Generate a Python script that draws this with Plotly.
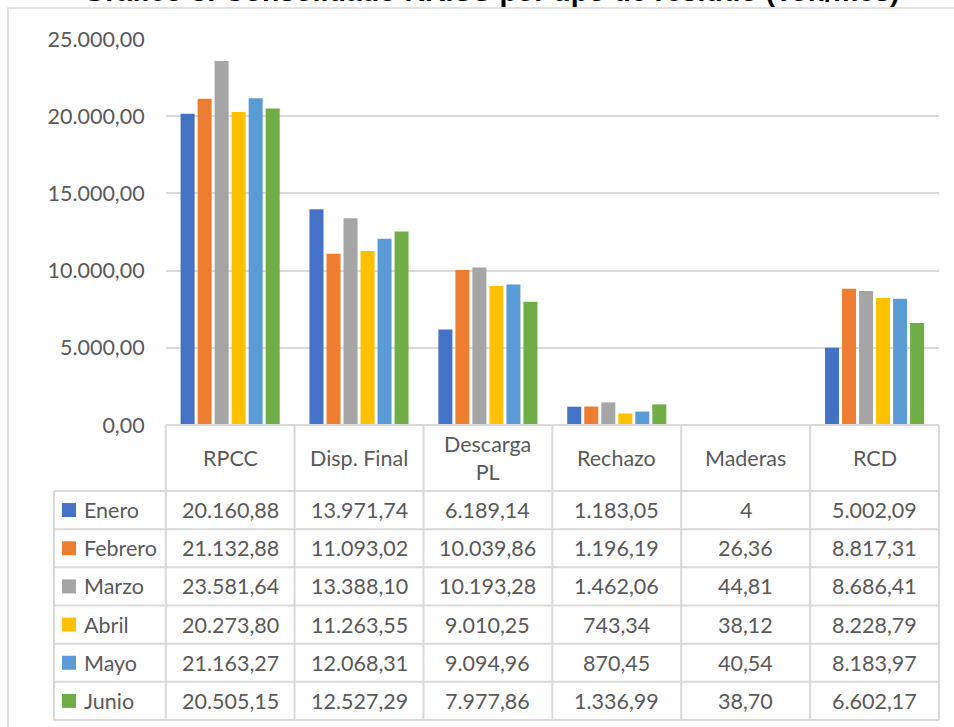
import plotly.graph_objects as go

# datos del gráfico (Ton/mes)
categories = ["RPCC", "Disp. Final", "Descarga PL", "Rechazo", "Maderas", "RCD"]
header_labels = ["RPCC", "Disp. Final", "Descarga<br>PL", "Rechazo", "Maderas", "RCD"]
months = ["Enero", "Febrero", "Marzo", "Abril", "Mayo", "Junio"]
enero = [20160.88, 13971.74, 6189.14, 1183.05, 4, 5002.09]
febrero = [21132.88, 11093.02, 10039.86, 1196.19, 26.36, 8817.31]
marzo = [23581.64, 13388.10, 10193.28, 1462.06, 44.81, 8686.41]
abril = [20273.80, 11263.55, 9010.25, 743.34, 38.12, 8228.79]
mayo = [21163.27, 12068.31, 9094.96, 870.45, 40.54, 8183.97]
junio = [20505.15, 12527.29, 7977.86, 1336.99, 38.70, 6602.17]
series = [enero, febrero, marzo, abril, mayo, junio]
colors = ["#4472C4", "#ED7D31", "#A5A5A5", "#FFC000", "#5B9BD5", "#70AD47"]
y_ticks = [0, 5000, 10000, 15000, 20000, 25000]

title = "Gráfico 3: Consolidado RR.SS por tipo de residuo (Ton/mes)"

# geometria en pixeles
W, H = 954, 727
PLOT_L, PLOT_R = 165.7, 939
PLOT_T, ZERO = 39, 425
HDR_B, TBL_B = 491, 720
LEG_L = 54
COL = (PLOT_R - PLOT_L) / len(categories)
ROW = (TBL_B - HDR_B) / len(months)
HDR = (HDR_B - ZERO) / ROW

FONT = "Lato, 'Open Sans', sans-serif"
FS = 21.5
GREY_TXT = "#595959"
LINE = "#d9d9d9"


def px(x):
    return x / W


def py(y):
    return 1 - y / H


def to_x2(p):
    return (p - PLOT_L) / COL - 0.5


def to_y2(p):
    return (p - HDR_B) / ROW


def fmt(v):
    if float(v).is_integer():
        s = f"{int(v):,}"
    else:
        s = f"{v:,.2f}"
    return s.replace(",", "X").replace(".", ",").replace("X", ".")


fig = go.Figure()

for name, vals, color in zip(months, series, colors):
    fig.add_trace(go.Bar(name=name, x=categories, y=vals, marker_color=color,
                         marker_line_width=0, showlegend=False, hoverinfo="skip"))

# cuadritos de la leyenda en la tabla
fig.add_trace(go.Scatter(
    x=[to_x2(69)] * len(months),
    y=[r + 0.5 for r in range(len(months))],
    mode="markers",
    marker=dict(symbol="square", size=14, color=colors, line_width=0),
    xaxis="x2", yaxis="y2", showlegend=False, hoverinfo="skip", cliponaxis=False,
))

txt = dict(family=FONT, size=FS, color=GREY_TXT)
annotations = []
for r, (name, vals) in enumerate(zip(months, series)):
    annotations.append(dict(x=to_x2(82), y=r + 0.5, xref="x2", yref="y2", text=name,
                            xanchor="left", showarrow=False, font=txt))
    for c, v in enumerate(vals):
        annotations.append(dict(x=c, y=r + 0.5, xref="x2", yref="y2", text=fmt(v),
                                showarrow=False, font=txt))
for c, lab in enumerate(header_labels):
    annotations.append(dict(x=c, y=-HDR / 2, xref="x2", yref="y2", text=lab,
                            showarrow=False, font=txt))

# titulo (queda cortado arriba como en el original)
annotations.append(dict(x=px(491), y=py(9.5), xref="paper", yref="paper", text=f"<b>{title}</b>",
                        xanchor="center", yanchor="bottom", showarrow=False,
                        font=dict(family="Liberation Sans, Arial", size=28.5, color="black")))

shapes = [dict(type="rect", xref="paper", yref="paper", x0=px(8), x1=px(970),
               y0=py(8), y1=py(760), line=dict(color=LINE, width=1.5), layer="below")]
n = len(categories)
left = to_x2(LEG_L)
shapes.append(dict(type="line", xref="x2", yref="y2", x0=-0.5, x1=n - 0.5, y0=-HDR, y1=-HDR,
                   line=dict(color=LINE, width=2)))
for r in range(len(months) + 1):
    shapes.append(dict(type="line", xref="x2", yref="y2", x0=left, x1=n - 0.5, y0=r, y1=r,
                       line=dict(color=LINE, width=2)))
shapes.append(dict(type="line", xref="x2", yref="y2", x0=left, x1=left, y0=0, y1=len(months),
                   line=dict(color=LINE, width=2)))
for k in range(n + 1):
    shapes.append(dict(type="line", xref="x2", yref="y2", x0=k - 0.5, x1=k - 0.5,
                       y0=-HDR, y1=len(months), line=dict(color=LINE, width=2)))

fig.update_layout(
    width=W, height=H,
    margin=dict(l=0, r=0, t=0, b=0),
    paper_bgcolor="white", plot_bgcolor="rgba(0,0,0,0)",
    barmode="group", bargap=0.208, bargroupgap=0.176,
    separators=",.",
    xaxis=dict(domain=[px(PLOT_L), px(PLOT_R)], showticklabels=False, showgrid=False,
               zeroline=False, showline=False, ticks="", automargin=False),
    yaxis=dict(domain=[py(ZERO), py(PLOT_T)], range=[0, 25000], tickvals=y_ticks,
               tickformat=",.2f", showgrid=True, gridcolor=LINE, gridwidth=1.5,
               zeroline=False, showline=False, ticklabelstandoff=20, automargin=False,
               tickfont=txt),
    xaxis2=dict(domain=[px(50), px(944)], range=[to_x2(50), to_x2(944)], visible=False,
                anchor="y2", automargin=False),
    yaxis2=dict(domain=[py(723), py(422)], range=[to_y2(723), to_y2(422)], visible=False,
                anchor="x2", automargin=False),
    shapes=shapes,
    annotations=annotations,
)

# sin margen del body para que el grafico ocupe la ventana completa
fig.write_html("out.html", config={"displayModeBar": False},
               post_script="document.body.style.margin='0px';")
